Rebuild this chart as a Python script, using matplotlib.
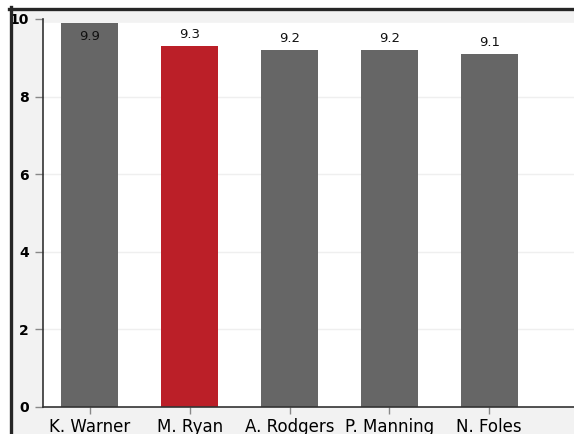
import matplotlib.pyplot as plt
from matplotlib.patches import Rectangle
from matplotlib.lines import Line2D

players = ['K. Warner', 'M. Ryan', 'A. Rodgers', 'P. Manning', 'N. Foles']
ratings = [9.9, 9.3, 9.2, 9.2, 9.1]
highlight = 'M. Ryan'

W, H = 574, 434
fig = plt.figure(figsize=(W / 100, H / 100), dpi=100, facecolor='white')

# panel background + dark frame lines on top and left
fig.patches.append(Rectangle((12 / W, 0), 1, (H - 10) / H, transform=fig.transFigure,
                             facecolor='#f2f2f2', edgecolor='none', zorder=-5))
fig.add_artist(Line2D([10.5 / W, 10.5 / W], [0, (H - 7) / H], transform=fig.transFigure,
                      color='#262626', lw=2.4))
fig.add_artist(Line2D([9 / W, 1], [(H - 8.5) / H, (H - 8.5) / H], transform=fig.transFigure,
                      color='#262626', lw=2.4))

ax = fig.add_axes([43 / W, 27 / H, 1 - 43 / W, (407 - 19) / H])
ax.set_facecolor('#f2f2f2')
ax.axhspan(0, max(ratings), color='white', zorder=0)

colors = ['#bb1f28' if p == highlight else '#666666' for p in players]
x = range(len(players))
bars = ax.bar(x, ratings, width=0.57, color=colors, zorder=2)

for xi, v in zip(x, ratings):
    if v + 0.35 > 10:
        ax.annotate(f'{v}', (xi, v), xytext=(0, -5), textcoords='offset points',
                    ha='center', va='top', fontsize=9.5, color='#111111', zorder=3)
    else:
        ax.annotate(f'{v}', (xi, v), xytext=(0, 3.5), textcoords='offset points',
                    ha='center', va='bottom', fontsize=9.5, color='#111111', zorder=3)

ax.set_ylim(0, 10)
ax.set_xlim(-0.47, 4.85)
ax.set_yticks([0, 2, 4, 6, 8, 10])
ax.set_yticklabels(['0', '2', '4', '6', '8', '10'], fontweight='bold', fontsize=10)
ax.set_xticks(list(x))
ax.set_xticklabels(players, fontsize=12)

for yv in [2, 4, 6, 8]:
    ax.axhline(yv, color='#efefef', lw=1, zorder=1)

for s in ['top', 'right']:
    ax.spines[s].set_visible(False)
ax.spines['left'].set_color('#333333')
ax.spines['bottom'].set_color('#333333')
ax.spines['left'].set_linewidth(1.2)
ax.spines['bottom'].set_linewidth(1.2)
ax.tick_params(axis='y', length=6, width=1, color='#888888', pad=4)
ax.tick_params(axis='x', length=5, width=1, color='#888888', pad=3)

fig.savefig('out.png', dpi=100, facecolor=fig.get_facecolor())
